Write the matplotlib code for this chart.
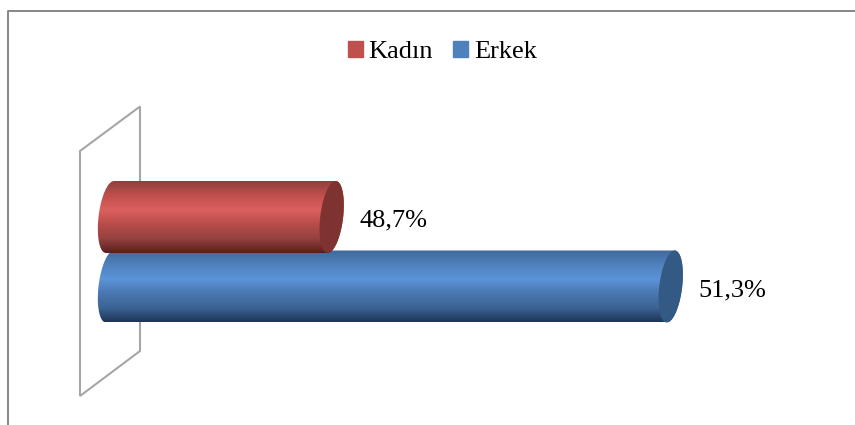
import matplotlib
matplotlib.use('Agg')
import matplotlib.pyplot as plt
from matplotlib.colors import LinearSegmentedColormap
from matplotlib.patches import Polygon, Patch
import numpy as np

plt.rcParams['font.family'] = ['Liberation Serif', 'DejaVu Serif']

categories = ['Erkek', 'Kadın']
values = [51.3, 48.7]
labels = ['51,3%', '48,7%']
colors = ['#4f81bd', '#c0504d']
cap_colors = ['#325a85', '#7f3331']
shades = [['#40699b', '#4f81bd', '#5b94da', '#4a78b0', '#3c6496', '#1e3557'],
          ['#8f403d', '#c0504d', '#db605d', '#b84d4a', '#954240', '#591e1d']]

W, H = 855, 425
fig = plt.figure(figsize=(W / 100, H / 100), dpi=100)
ax = fig.add_axes([0, 0, 1, 1])
ax.set_axis_off()

# pixel layout -> data scale (axis starts near 47, not 0)
px_per_val = 130.4
px_per_cat = 69.5
x_base = 47.0
x0 = 110
y0 = 286.5
xlim = (x_base - x0 / px_per_val, x_base + (W - x0) / px_per_val)
ylim = ((y0 - H) / px_per_cat, y0 / px_per_cat)
dx = 1 / px_per_val
dy = 1 / px_per_cat

# back wall and outer frame, in axes pixel fractions
wall = [(80, 151), (140, 106.5), (140, 351), (80, 396)]
ax.add_patch(Polygon([(a / W, 1 - b / H) for a, b in wall], closed=True, fill=False,
                     ec='#a6a6a6', lw=1.5, transform=ax.transAxes, zorder=1))
ax.plot([7.5 / W, 7.5 / W, 1], [0, 1 - 10.5 / H, 1 - 10.5 / H], color='#868686', lw=1.4,
        transform=ax.transAxes, clip_on=False, zorder=1)


def ellipse(cx, cy, t):
    x = cx + dx * (11.5 * np.cos(t) + 4 * np.sin(t))
    y = cy + dy * 36 * np.sin(t)
    return x, y


bar_h = 72 * dy
for i in range(len(values)):
    v = values[i]
    up = np.linspace(-np.pi / 2, np.pi / 2, 60)
    down = np.linspace(np.pi / 2, 3 * np.pi / 2, 60)
    rx, ry = ellipse(v, i, up)
    lx, ly = ellipse(x_base, i, down)
    body = np.column_stack([np.r_[rx, lx], np.r_[ry, ly]])

    cmap = LinearSegmentedColormap.from_list('c', shades[i])
    grad = np.linspace(0, 1, 128).reshape(-1, 1)
    im = ax.imshow(grad, cmap=cmap, aspect='auto', zorder=2 + i, interpolation='bilinear',
                   extent=[x_base - 0.15, v + 0.15, i - bar_h / 2, i + bar_h / 2], origin='upper')
    clip = Polygon(body, closed=True, transform=ax.transData, fc='none', ec='none')
    im.set_clip_path(clip)

    tt = np.linspace(0, 2 * np.pi, 120)
    cx, cy = ellipse(v, i, tt)
    ax.fill(cx, cy, color=cap_colors[i], lw=0, zorder=2 + i + 0.5)

    ax.text(v + 0.215, i - 0.055, labels[i], fontsize=19, color='black',
            ha='left', va='center', zorder=5)

ax.set_xlim(*xlim)
ax.set_ylim(*ylim)

handles = [Patch(color=colors[1], label=categories[1]), Patch(color=colors[0], label=categories[0])]
ax.legend(handles=handles, ncol=2, frameon=False, fontsize=19, loc='center',
          bbox_to_anchor=(442.5 / W, 1 - 52 / H), handlelength=0.54, handleheight=0.54,
          handletextpad=0.23, columnspacing=0.77, borderpad=0, labelspacing=0)

fig.savefig('out.png', dpi=100)
